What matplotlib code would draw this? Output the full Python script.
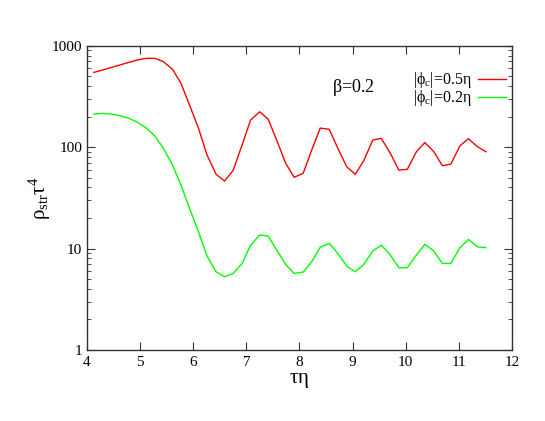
import numpy as np
import matplotlib
matplotlib.use('Agg')
from matplotlib import pyplot as plt
from matplotlib.ticker import LogLocator, NullFormatter, FixedLocator

plt.rcParams['font.family'] = ['Liberation Serif', 'DejaVu Serif']
plt.rcParams['mathtext.fontset'] = 'custom'
plt.rcParams['mathtext.rm'] = 'Liberation Serif'
plt.rcParams['mathtext.it'] = 'Liberation Serif'
plt.rcParams['mathtext.bf'] = 'Liberation Serif:bold'

# tau*eta sample points
tau = [4.13, 4.29, 4.46, 4.62, 4.79, 4.95, 5.11, 5.28, 5.44, 5.61,
       5.77, 5.93, 6.10, 6.26, 6.43, 6.59, 6.75, 6.92, 7.08, 7.25,
       7.41, 7.57, 7.74, 7.90, 8.07, 8.23, 8.39, 8.56, 8.72, 8.89,
       9.05, 9.21, 9.38, 9.54, 9.71, 9.87, 10.03, 10.20, 10.36, 10.53,
       10.69, 10.85, 11.02, 11.18, 11.35, 11.51]

# |phi_c| = 0.5 eta
rho_05 = [545, 575, 610, 645, 685, 722, 750, 750, 695, 585,
          425, 260, 153, 83.5, 54, 46.3, 58.8, 105, 185, 223,
          189, 117.5, 69.2, 50.4, 55.2, 93.5, 154, 150, 98, 64,
          54, 73.5, 117.5, 122, 87, 59.4, 60.4, 90, 111, 90,
          65.6, 68, 103, 121, 101, 90]

# |phi_c| = 0.2 eta
rho_02 = [212, 215, 212, 204, 192, 176, 155, 128.5, 97, 66.5,
          42.3, 24.9, 14.6, 8.44, 5.9, 5.27, 5.69, 7.14, 10.8, 13.6,
          13.3, 9.67, 6.98, 5.69, 5.86, 7.41, 10.3, 11.25, 8.97, 6.72,
          5.90, 6.98, 9.45, 10.8, 8.63, 6.47, 6.47, 8.63, 11.0, 9.45,
          7.14, 7.14, 10.2, 12.3, 10.4, 10.2]

labels = [r'$|\phi_{\rm c}|$=0.5$\eta$', r'$|\phi_{\rm c}|$=0.2$\eta$']
xticks = [4, 5, 6, 7, 8, 9, 10, 11, 12]

fig = plt.figure(figsize=(5.45, 4.21), dpi=100)
ax = fig.add_axes([0.1596, 0.1686, 0.7798, 0.7229])

ax.plot(tau, rho_05, color='#ff0000', lw=1.0, label=labels[0])
ax.plot(tau, rho_02, color='#00ff00', lw=1.0, label=labels[1])

ax.set_yscale('log')
ax.set_xlim(4, 12)
ax.set_ylim(1, 1000)
ax.xaxis.set_major_locator(FixedLocator(xticks))
ax.set_yticks([1, 10, 100, 1000])
ax.set_yticklabels(['1', '10', '100', '1000'])
ax.yaxis.set_minor_locator(LogLocator(base=10, subs=np.arange(2, 10)))
ax.yaxis.set_minor_formatter(NullFormatter())

ax.tick_params(which='both', direction='in', top=True, right=True,
               labelsize=11, color='#333333')
ax.tick_params(which='major', length=6, width=0.8)
ax.tick_params(which='minor', length=3, width=0.6)
ax.tick_params(axis='x', pad=4)
for sp in ax.spines.values():
    sp.set_linewidth(1.0)
    sp.set_color('#333333')

ax.set_xlabel(r'$\tau\eta$', fontsize=15, labelpad=2)
ax.set_ylabel(r'$\rho_{\rm str}\tau^4$', fontsize=15)
ax.yaxis.set_label_coords(-0.08, 0.5)

ax.text(8.62, 390, r'$\beta$=0.2', fontsize=13, va='center', ha='left')

ax.legend(loc='upper right', bbox_to_anchor=(1.0, 0.94), frameon=False,
          markerfirst=False, fontsize=11.5, handlelength=1.75,
          handletextpad=0.35, labelspacing=-0.12, borderaxespad=0.0)

fig.savefig('out.png', dpi=100)
